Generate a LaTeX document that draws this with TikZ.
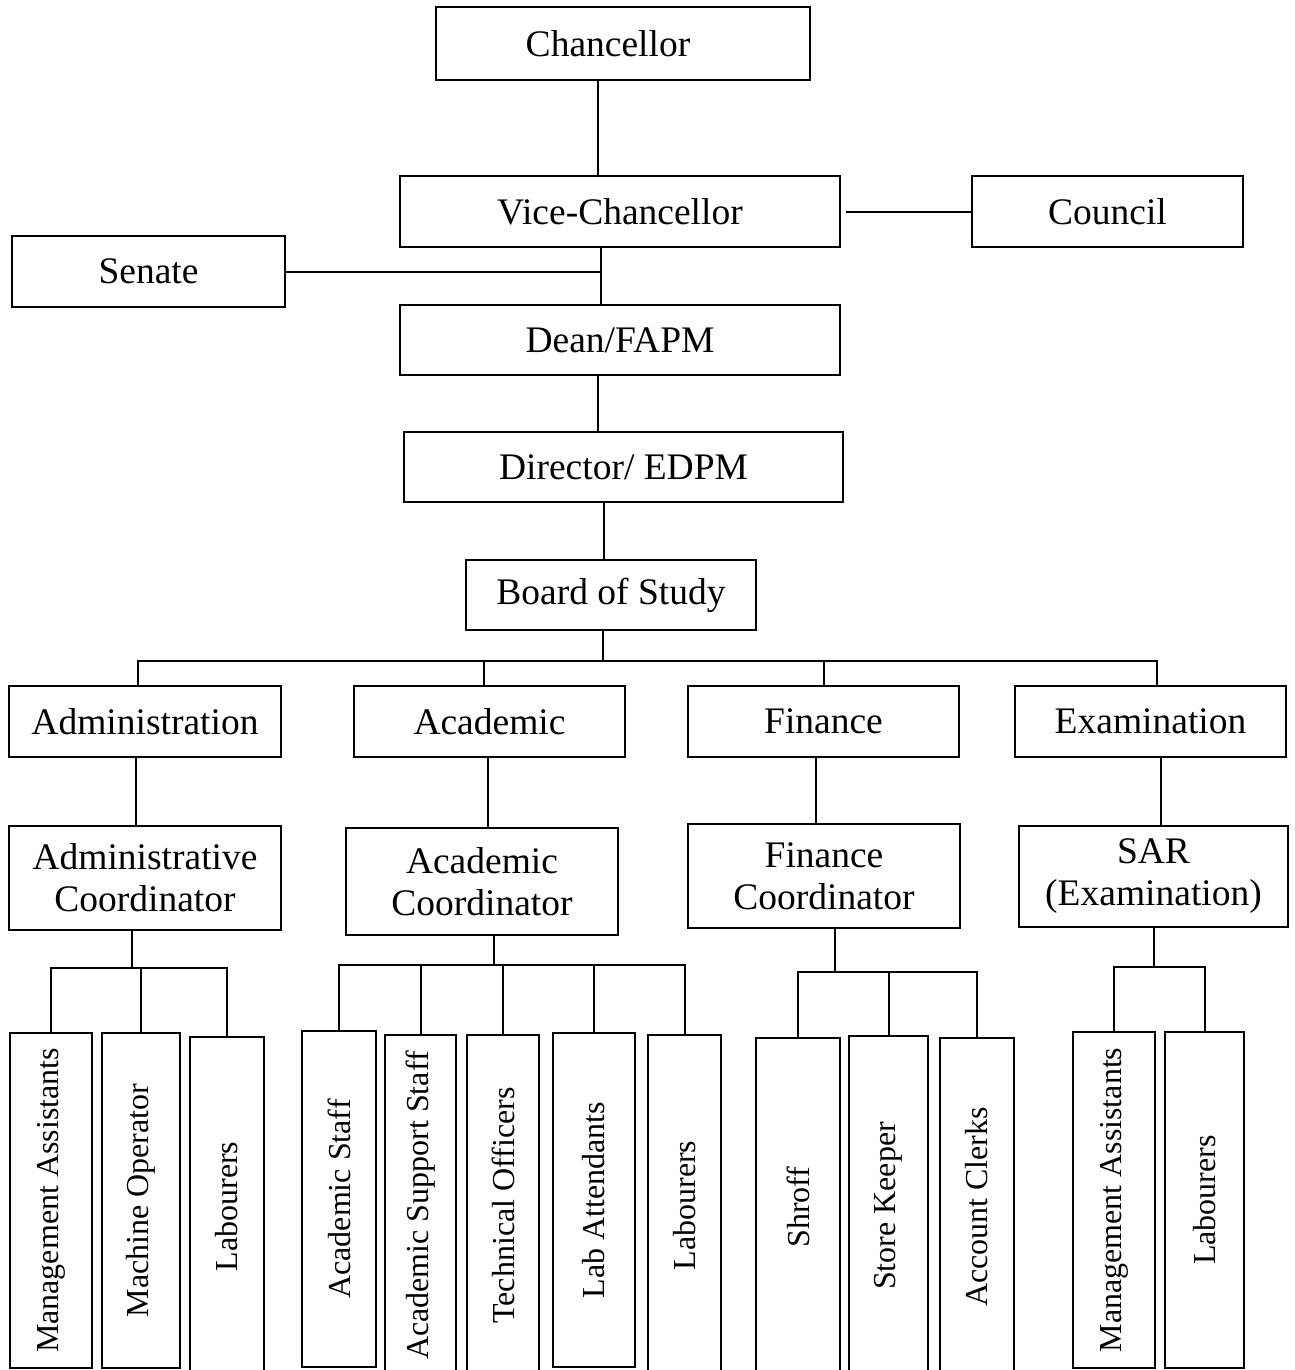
\documentclass[tikz,border=0pt]{standalone}
\usepackage{fontspec}
\setmainfont{Liberation Serif}
\tikzset{
    box/.style={draw, inner sep=0pt, align=center, font=\fontsize{18.75}{21}\selectfont},
    leaf/.style={draw, inner sep=0pt, font=\fontsize{16}{18}\selectfont}
}
\begin{document}
\begin{tikzpicture}[x=0.5pt,y=-0.5pt,line width=1pt]
\useasboundingbox (0,0) rectangle (1295,1370);

% top of the chart
\node[box, minimum width=187pt, minimum height=36.5pt] (chan) at (623,43.5) {\hspace*{-15pt}Chancellor};
\node[box, minimum width=220pt, minimum height=35.5pt] (vc) at (620,211.5) {Vice-Chancellor};
\node[box, minimum width=135.5pt, minimum height=35.5pt] (council) at (1107.5,211.5) {Council};
\node[box, minimum width=136.5pt, minimum height=35.5pt] (senate) at (148.5,271.5) {Senate};
\node[box, minimum width=220pt, minimum height=35pt] (dean) at (620,340) {Dean/FAPM};
\node[box, minimum width=219.5pt, minimum height=35pt] (dir) at (623.5,467) {Director/ EDPM};
\node[box, minimum width=145pt, minimum height=35pt] (bos) at (611,595) {Board of Study};

% sections
\node[box, minimum width=136pt, minimum height=35.5pt] (adm) at (145,721.5) {Administration};
\node[box, minimum width=135.5pt, minimum height=35.5pt] (acad) at (489.5,721.5) {Academic};
\node[box, minimum width=135.5pt, minimum height=35.5pt] (fin) at (823.5,721.5) {Finance};
\node[box, minimum width=135.5pt, minimum height=35.5pt] (exam) at (1150.5,721.5) {Examination};

\node[box, minimum width=136pt, minimum height=52pt] (admc) at (145,878) {Administrative\\Coordinator};
\node[box, minimum width=136pt, minimum height=53.5pt] (acadc) at (482,881.5) {Academic\\Coordinator};
\node[box, minimum width=136pt, minimum height=52pt] (finc) at (824,876) {Finance\\Coordinator};
\node[box, minimum width=134.5pt, minimum height=50.5pt] (sar) at (1153.5,876.5) {SAR\\(Examination)};

% staff
\node[leaf, minimum width=41pt, minimum height=167.5pt] (a1) at (51,1200.5) {\rotatebox{90}{Management Assistants}};
\node[leaf, minimum width=39pt, minimum height=167.5pt] (a2) at (141,1200.5) {\rotatebox{90}{Machine Operator}};
\node[leaf, minimum width=37pt, minimum height=169.5pt] (a3) at (227,1206.5) {\rotatebox{90}{Labourers}};

\node[leaf, minimum width=37pt, minimum height=168pt] (c1) at (339,1199) {\rotatebox{90}{Academic Staff}};
\node[leaf, minimum width=35.5pt, minimum height=170.5pt] (c2) at (420.5,1205.5) {\rotatebox{90}{Academic Support Staff}};
\node[leaf, minimum width=36pt, minimum height=170.5pt] (c3) at (503,1205.5) {\rotatebox{90}{Technical Officers}};
\node[leaf, minimum width=41pt, minimum height=167pt] (c4) at (594,1200) {\rotatebox{90}{Lab Attendants}};
\node[leaf, minimum width=36.5pt, minimum height=170.5pt] (c5) at (684.5,1205.5) {\rotatebox{90}{Labourers}};

\node[leaf, minimum width=42pt, minimum height=169pt] (f1) at (798,1207) {\rotatebox{90}{Shroff}};
\node[leaf, minimum width=39.5pt, minimum height=170pt] (f2) at (888.5,1206) {\rotatebox{90}{Store Keeper}};
\node[leaf, minimum width=37pt, minimum height=169pt] (f3) at (977,1207) {\rotatebox{90}{Account Clerks}};

\node[leaf, minimum width=41pt, minimum height=168pt] (e1) at (1114,1200) {\rotatebox{90}{Management Assistants}};
\node[leaf, minimum width=39.5pt, minimum height=168pt] (e2) at (1204.5,1200) {\rotatebox{90}{Labourers}};

% connectors
\draw ([xshift=-12.5pt]chan.south) -- ([xshift=-12.5pt]chan.south |- vc.north);
\draw ([xshift=2.5pt]vc.east) -- (council.west);
\coordinate (spine) at ([xshift=-9.5pt]vc.south);
\draw (spine) -- (spine |- dean.north);
\draw (senate.east) -- (senate.east -| spine);
\draw ([xshift=-11pt]dean.south) -- ([xshift=-11pt]dean.south |- dir.north);
\draw ([xshift=-10pt]dir.south) -- ([xshift=-10pt]dir.south |- bos.north);
\draw ([xshift=-4pt]bos.south) -- ++(0,30) coordinate (bus);
\draw ([xshift=-3.5pt]adm.north) |- (bus) -| ([xshift=3.25pt]exam.north);
\draw ([xshift=-2.75pt]acad.north |- bus) -- ([xshift=-2.75pt]acad.north);
\draw (fin.north |- bus) -- (fin.north);

\foreach \a/\b/\s in {adm/admc/-4.5pt, acad/acadc/-1pt, fin/finc/-4pt, exam/sar/5pt}
    \draw ([xshift=\s]\a.south) -- ([xshift=\s]\a.south |- \b.north);

\draw ([xshift=-6.5pt]admc.south) -- ++(0,37) coordinate (admbus);
\draw (a1.north) |- (admbus) -| (a3.north);
\draw (a2.north |- admbus) -- (a2.north);

\draw ([xshift=6pt]acadc.south) -- ++(0,29) coordinate (acadbus);
\draw (c1.north) |- (acadbus) -| (c5.north);
\foreach \n in {c2,c3,c4}
    \draw (\n.north |- acadbus) -- (\n.north);

\draw ([xshift=5.5pt]finc.south) -- ++(0,43) coordinate (finbus);
\draw (f1.north) |- (finbus) -| (f3.north);
\draw (f2.north |- finbus) -- (f2.north);

\draw (sar.south) -- ++(0,39) coordinate (sarbus);
\draw (e1.north) |- (sarbus) -| (e2.north);
\end{tikzpicture}
\end{document}
